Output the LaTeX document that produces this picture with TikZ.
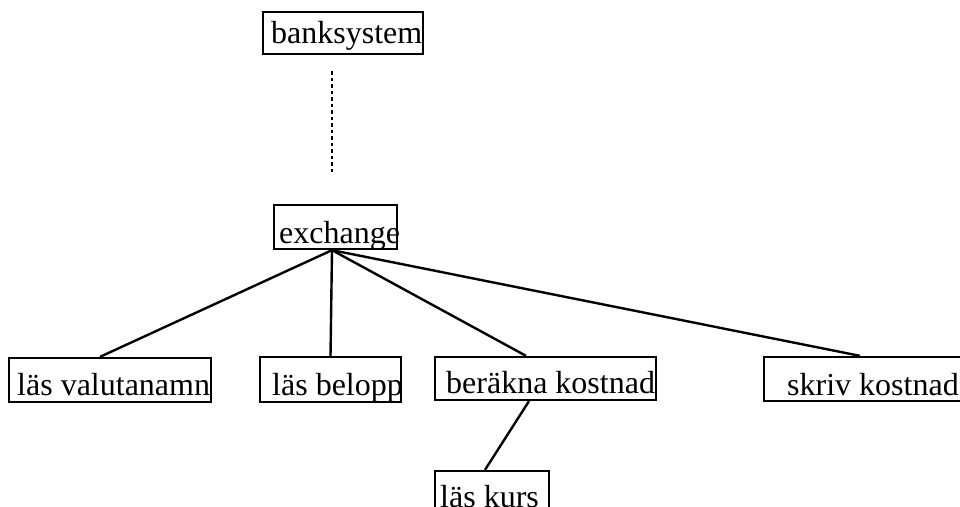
\documentclass[tikz,border=0pt]{standalone}
\usepackage{fontspec}
\setmainfont{Liberation Serif}
\begin{document}
\begin{tikzpicture}[x=1pt,y=-1pt,
  box/.style={draw=black,line width=2.3pt,inner sep=0pt,rectangle},
  lbl/.style={inner sep=0pt,anchor=base west,font=\fontsize{32}{38}\selectfont},
  conn/.style={draw=black,line width=2.4pt},
  dots/.style={draw=black,line width=2.4pt,dash pattern=on 3.5pt off 3pt}]
\clip (0,0) rectangle (960,506);
\fill[white] (0,0) rectangle (960,506);
% boxes
\node[box,minimum width=160pt,minimum height=42pt] (bank) at (343,33) {};
\node[box,minimum width=123pt,minimum height=44pt] (exchange) at (335.5,227) {};
\node[box,minimum width=202pt,minimum height=44pt] (valuta) at (110,380) {};
\node[box,minimum width=141pt,minimum height=45pt] (belopp) at (330.5,379.5) {};
\node[box,minimum width=221pt,minimum height=43pt] (berakna) at (545.5,378.5) {};
\node[box,minimum width=216pt,minimum height=44pt] (skriv) at (872,379) {};
\node[box,minimum width=114pt,minimum height=44pt] (kurs) at (492,493) {};
% texts
\node[lbl] (tbank) at (271,43) {banksystem};
\node[lbl] (texchange) at (279,243) {exchange};
\node[lbl] (tvaluta) at (17,395) {läs valutanamn};
\node[lbl] (tbelopp) at (272,395) {läs belopp};
\node[lbl] (tberakna) at (446,393) {beräkna kostnad};
\node[lbl] (tskriv) at (787,395) {skriv kostnad};
\node[lbl] (tkurs) at (440,507) {läs kurs};
% connectors
\draw[dots] ([xshift=-11pt,yshift=-16pt]bank.south) -- ([xshift=-3.5pt,yshift=32pt]exchange.north);
\draw[conn] ([xshift=-3.5pt]exchange.south) -- ([xshift=-10pt]valuta.north);
\draw[conn] ([xshift=-3.5pt]exchange.south) -- (belopp.north);
\draw[conn] ([xshift=-3.5pt]exchange.south) -- ([xshift=-19.5pt]berakna.north);
\draw[conn] ([xshift=-3.5pt]exchange.south) -- ([xshift=-12pt]skriv.north);
\draw[conn] ([xshift=-16.5pt]berakna.south) -- ([xshift=-7pt]kurs.north);
\end{tikzpicture}
\end{document}
